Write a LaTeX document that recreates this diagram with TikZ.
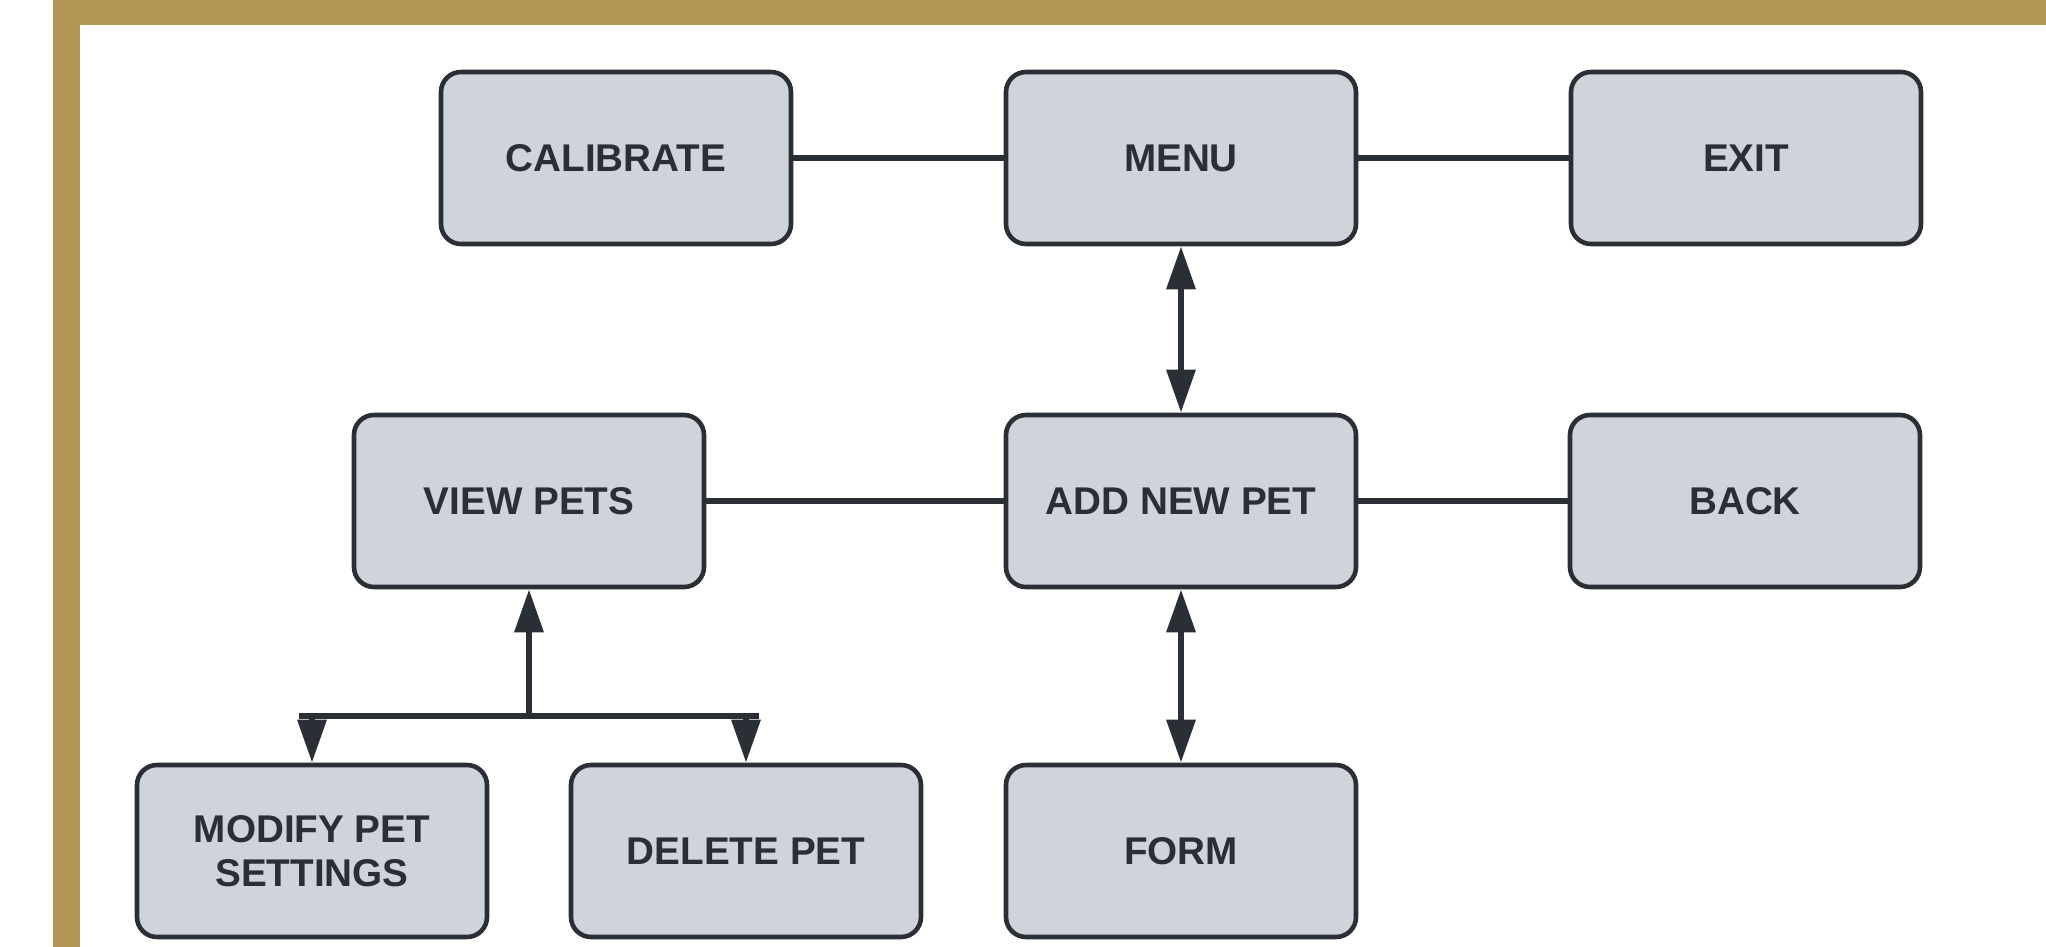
\documentclass[tikz,border=0pt]{standalone}
\usepackage{fontspec}
\setmainfont{Liberation Sans}
\usepackage{tikz}
\usetikzlibrary{shapes,arrows.meta,calc,positioning}
\definecolor{boxcolor}{RGB}{207,211,218}
\definecolor{linecolor}{RGB}{42,46,53}
\definecolor{framecolor}{RGB}{179,150,86}
\tikzstyle{block} = [draw=linecolor, fill=boxcolor, rounded corners=0.2cm, rectangle, line width=1.3pt, text=linecolor,
    minimum height=1.72cm, minimum width=3.5cm, align=center, font=\fontsize{11}{12.6}\selectfont\bfseries]
\tikzstyle{link} = [draw=linecolor, line width=1.8pt, >={Triangle[length=4.3mm,width=2.8mm]}]

\begin{document}
\begin{tikzpicture}
%% Frame %%
\useasboundingbox (0,0) rectangle (20.46,-9.47);
\fill[framecolor] (0.53,0) rectangle (20.46,-9.47);
\fill[white] (0.80,-0.25) rectangle (20.46,-9.47);

%% Top row %%
\node [block] (Calibrate) at (6.16,-1.58) {CALIBRATE};
\node [block] (Menu) at ($(Calibrate)+(5.65,0)$) {MENU};
\node [block] (Exit) at ($(Menu)+(5.65,0)$) {EXIT};
%% Middle row %%
\node [block] (AddPet) at ($(Menu)+(0,-3.43)$) {ADD NEW PET};
\node [block] (ViewPets) at ($(AddPet)+(-6.52,0)$) {VIEW PETS};
\node [block] (Back) at ($(AddPet)+(5.64,0)$) {BACK};
%% Bottom row %%
\node [block] (Form) at ($(AddPet)+(0,-3.5)$) {FORM};
\node [block] (ModifyPet) at ($(Form)+(-8.69,0)$) {MODIFY PET\\SETTINGS};
\node [block] (DeletePet) at ($(Form)+(-4.35,0)$) {DELETE PET};

%% Connections %%
\draw[link] (Calibrate) -- (Menu);
\draw[link] (Menu) -- (Exit);
\draw[link,<->] (Menu) -- (AddPet);
\draw[link] (ViewPets) -- (AddPet);
\draw[link] (AddPet) -- (Back);
\draw[link,<->] (AddPet) -- (Form);
\coordinate (BusLeft) at ($(ModifyPet.north)+(0,0.47)$);
\coordinate (BusRight) at ($(DeletePet.north)+(0,0.47)$);
\draw[link] ($(BusLeft)+(-0.13,0)$) -- ($(BusRight)+(0.13,0)$);
\draw[link,->] (BusLeft) -- (ModifyPet);
\draw[link,->] (BusRight) -- (DeletePet);
\draw[link,->] (ViewPets |- BusLeft) -- (ViewPets);
\end{tikzpicture}
\end{document}
